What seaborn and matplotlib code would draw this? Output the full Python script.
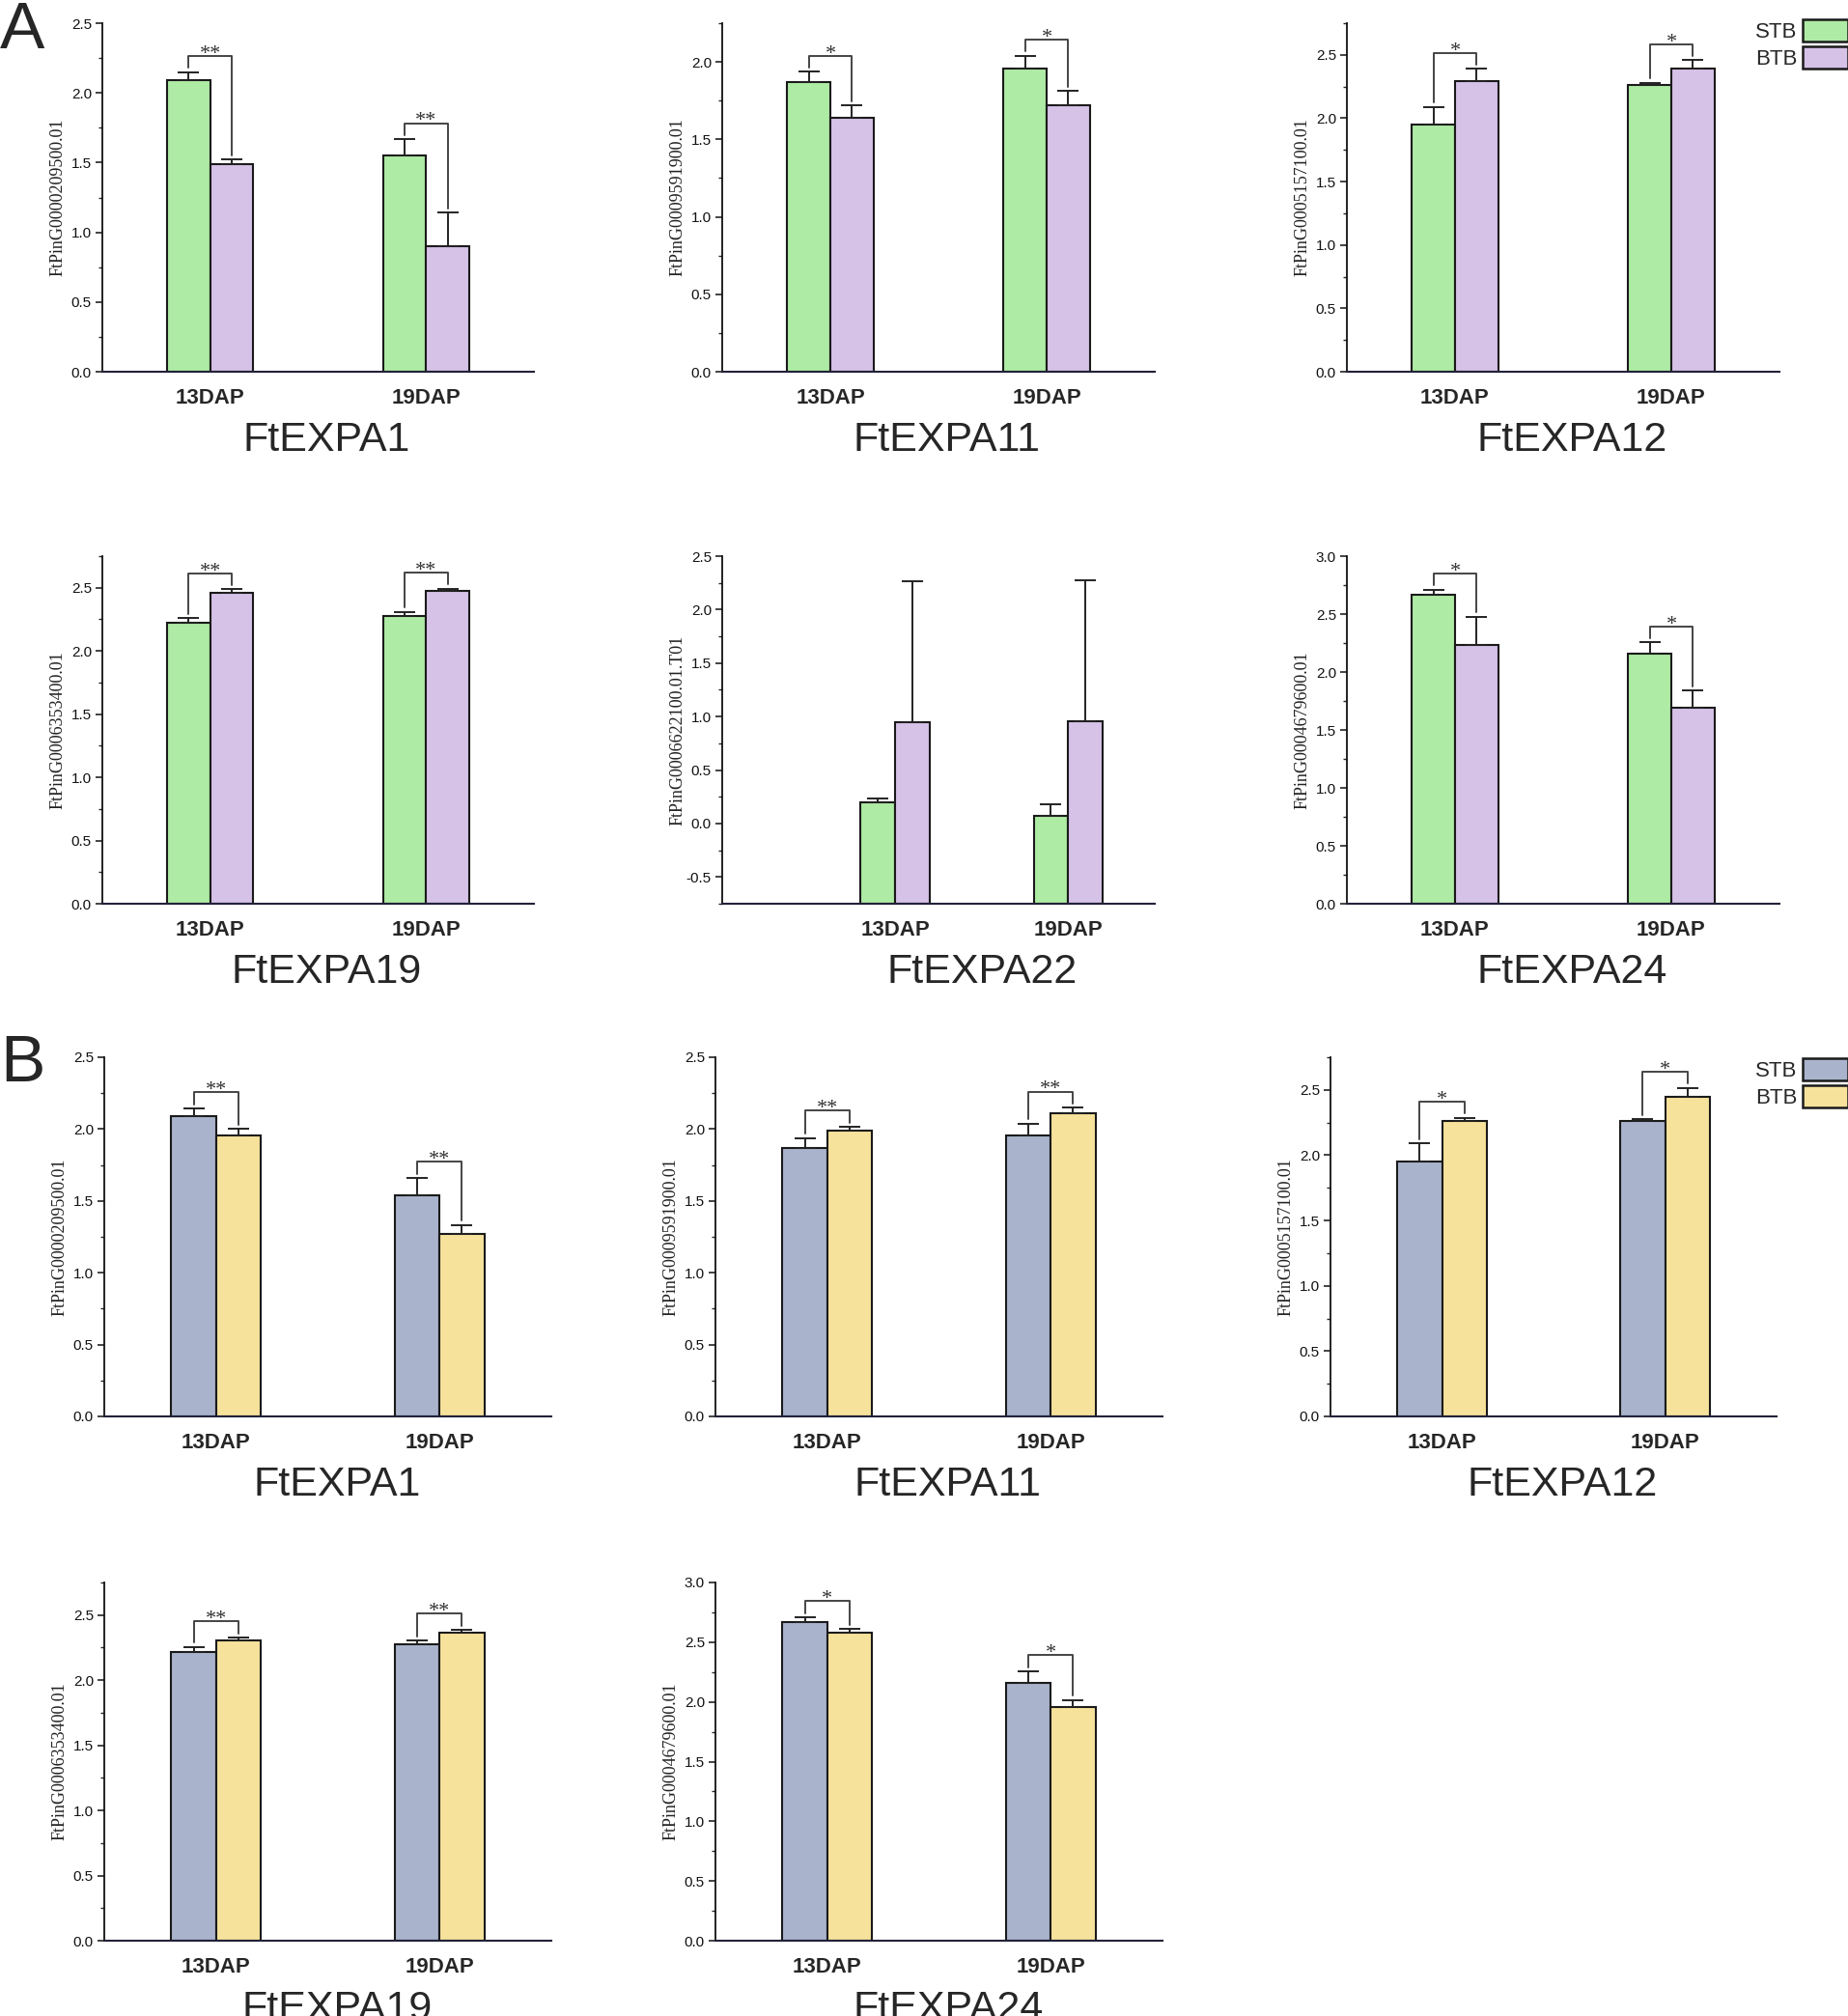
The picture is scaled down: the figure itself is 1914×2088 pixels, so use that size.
import numpy as np
import pandas as pd
import matplotlib
matplotlib.use("Agg")
import matplotlib.pyplot as plt
import seaborn as sns
from matplotlib.ticker import MultipleLocator, AutoMinorLocator
from matplotlib.patches import Patch

sns.set_theme(style="white")
plt.rcParams['font.family'] = ['Liberation Sans', 'DejaVu Sans']
plt.rcParams['axes.unicode_minus'] = False

# ---- data ----
stages = ["13DAP", "19DAP"]
groups = ["STB", "BTB"]

genes_A = ["FtEXPA1", "FtEXPA11", "FtEXPA12", "FtEXPA19", "FtEXPA22", "FtEXPA24"]
ids_A = ["FtPinG0000209500.01", "FtPinG0009591900.01", "FtPinG0005157100.01",
         "FtPinG0006353400.01", "FtPinG0006622100.01.T01", "FtPinG0004679600.01"]
A_stb_mean = [[2.09, 1.55], [1.87, 1.96], [1.95, 2.26], [2.22, 2.28], [0.20, 0.07], [2.665, 2.16]]
A_stb_err = [[0.06, 0.12], [0.067, 0.081], [0.14, 0.02], [0.04, 0.03], [0.03, 0.11], [0.047, 0.097]]
A_btb_mean = [[1.49, 0.90], [1.64, 1.72], [2.29, 2.39], [2.457, 2.474], [0.946, 0.955], [2.237, 1.693]]
A_btb_err = [[0.033, 0.24], [0.081, 0.092], [0.10, 0.07], [0.03, 0.02], [1.32, 1.32], [0.24, 0.15]]
A_sig = [["**", "**"], ["*", "*"], ["*", "*"], ["**", "**"], ["", ""], ["*", "*"]]
A_ylim = [(0, 2.5), (0, 2.25), (0, 2.75), (0, 2.75), (-0.75, 2.5), (0, 3.0)]

genes_B = ["FtEXPA1", "FtEXPA11", "FtEXPA12", "FtEXPA19", "FtEXPA24"]
ids_B = ["FtPinG0000209500.01", "FtPinG0009591900.01", "FtPinG0005157100.01",
         "FtPinG0006353400.01", "FtPinG0004679600.01"]
B_stb_mean = [[2.087, 1.54], [1.87, 1.957], [1.95, 2.26], [2.22, 2.275], [2.669, 2.155]]
B_stb_err = [[0.056, 0.12], [0.067, 0.08], [0.14, 0.015], [0.037, 0.027], [0.04, 0.10]]
B_btb_mean = [[1.957, 1.268], [1.986, 2.11], [2.26, 2.448], [2.307, 2.364], [2.58, 1.959]]
B_btb_err = [[0.045, 0.065], [0.03, 0.038], [0.025, 0.067], [0.02, 0.022], [0.032, 0.056]]
B_sig = [["**", "**"], ["**", "**"], ["*", "*"], ["**", "**"], ["*", "*"]]
B_ylim = [(0, 2.5), (0, 2.5), (0, 2.75), (0, 2.75), (0, 3.0)]

colors_A = ["#AEEBA4", "#D6C1E7"]
colors_B = ["#A9B4CC", "#F6E29B"]
EDGE = "#1a1a1a"

W, H = 1914, 2088
fig = plt.figure(figsize=(W / 100, H / 100), dpi=100)


def px_axes(left, top, right, bottom):
    return fig.add_axes([left / W, 1 - bottom / H, (right - left) / W, (bottom - top) / H])


def draw_panel(ax, gene, gid, stb_m, stb_e, btb_m, btb_e, sig, ylim, colors,
               width_px, shifted=False):
    df = pd.DataFrame({
        "stage": stages * 2,
        "group": ["STB"] * 2 + ["BTB"] * 2,
        "value": list(stb_m) + list(btb_m),
    })
    sns.barplot(data=df, x="stage", y="value", hue="group", order=stages,
                hue_order=groups, palette=colors, width=0.4, saturation=1,
                edgecolor=EDGE, linewidth=1.5, errorbar=None, legend=False, ax=ax)
    ax.set_ylim(ylim)
    lo = ylim[0]
    rng = ylim[1] - ylim[0]
    if lo != 0:
        # Origin draws the bars up from the bottom of the axis
        for p in ax.patches:
            h = p.get_height()
            p.set_y(lo)
            p.set_height(h - lo)

    xs = np.arange(len(stages))
    for off, m, e in [(-0.1, stb_m, stb_e), (0.1, btb_m, btb_e)]:
        ax.errorbar(xs + off, m, yerr=[np.zeros(len(e)), e], fmt="none",
                    ecolor="#222222", elinewidth=1.4, capsize=8, capthick=1.4, zorder=3)

    # significance brackets
    for i, s in enumerate(sig):
        if not s:
            continue
        t1 = stb_m[i] + stb_e[i]
        t2 = btb_m[i] + btb_e[i]
        h = max(t1, t2) + 0.045 * rng
        g = 0.012 * rng
        x0, x1 = i - 0.1, i + 0.1
        ax.plot([x0, x0, x1, x1], [t1 + g, h, h, t2 + g], color="#444444",
                lw=1.4, clip_on=False, zorder=4)
        ax.annotate(s, xy=((x0 + x1) / 2, h), xytext=(0, -2), textcoords="offset points",
                    ha="center", va="baseline", fontsize=16, color="#333333",
                    family=["Liberation Serif", "DejaVu Serif"])

    if shifted:
        ax.set_xlim(-1, 1.5)
    else:
        ax.set_xlim(-0.5, 1.5)

    ax.yaxis.set_major_locator(MultipleLocator(0.5))
    ax.yaxis.set_minor_locator(AutoMinorLocator(2))
    ax.tick_params(axis="y", which="major", direction="out", length=5, width=1.1,
                   labelsize=11, pad=3, left=True, colors="#111111")
    ax.tick_params(axis="y", which="minor", direction="out", length=3, width=1.0, left=True)
    ax.tick_params(axis="x", length=0, labelsize=16, pad=12)
    for lbl in ax.get_xticklabels():
        lbl.set_fontweight("bold")

    for side in ["top", "right"]:
        ax.spines[side].set_visible(False)
    ax.spines["left"].set_linewidth(1.3)
    ax.spines["left"].set_color("#111111")
    ax.spines["bottom"].set_linewidth(1.5)
    ax.spines["bottom"].set_color("#22223a")

    ax.set_xlabel("")
    ax.set_ylabel(gid, fontsize=13, family=["Liberation Serif", "DejaVu Serif"], color="#222222")
    ax.yaxis.set_label_coords(-37 / width_px, 0.5)

    # gene name under the axis
    tx = 0.6 if shifted else 0.52
    ax.annotate(gene, xy=(tx, 0), xycoords="axes fraction", xytext=(0, -51),
                textcoords="offset points", ha="center", va="center", fontsize=31,
                annotation_clip=False)


# ---- panel A ----
A_cols = [(106, 553), (748, 1196), (1395, 1843)]
A_rows = [(24, 385), (576, 936)]
for k in range(6):
    r, c = divmod(k, 3)
    l, rr = A_cols[c]
    t, b = A_rows[r]
    ax = px_axes(l, t, rr, b)
    draw_panel(ax, genes_A[k], ids_A[k], A_stb_mean[k], A_stb_err[k],
               A_btb_mean[k], A_btb_err[k], A_sig[k], A_ylim[k], colors_A,
               rr - l, shifted=(genes_A[k] == "FtEXPA22"))

# ---- panel B ----
B_cols = [(108, 571), (741, 1204), (1378, 1840)]
B_rows = [(1095, 1467), (1639, 2010)]
for k in range(5):
    r, c = divmod(k, 3)
    l, rr = B_cols[c]
    t, b = B_rows[r]
    ax = px_axes(l, t, rr, b)
    draw_panel(ax, genes_B[k], ids_B[k], B_stb_mean[k], B_stb_err[k],
               B_btb_mean[k], B_btb_err[k], B_sig[k], B_ylim[k], colors_B, rr - l)

# legends
for cols, y_top in [(colors_A, 20), (colors_B, 1096)]:
    handles = [Patch(facecolor=cols[i], edgecolor=EDGE, linewidth=1.8, label=groups[i])
               for i in range(2)]
    fig.legend(handles=handles, loc="upper right", bbox_to_anchor=(1.0, 1 - y_top / H),
               frameon=False, markerfirst=False, fontsize=16, handlelength=2.1,
               handleheight=1.2, handletextpad=0.25, labelspacing=0.2,
               borderpad=0, borderaxespad=0)

# panel letters
fig.text(0, 1 - 50 / H, "A", fontsize=50, va="baseline", ha="left")
fig.text(0, 1 - 1120 / H, "B", fontsize=50, va="baseline", ha="left")

fig.savefig("out.png", dpi=100, facecolor="white")
